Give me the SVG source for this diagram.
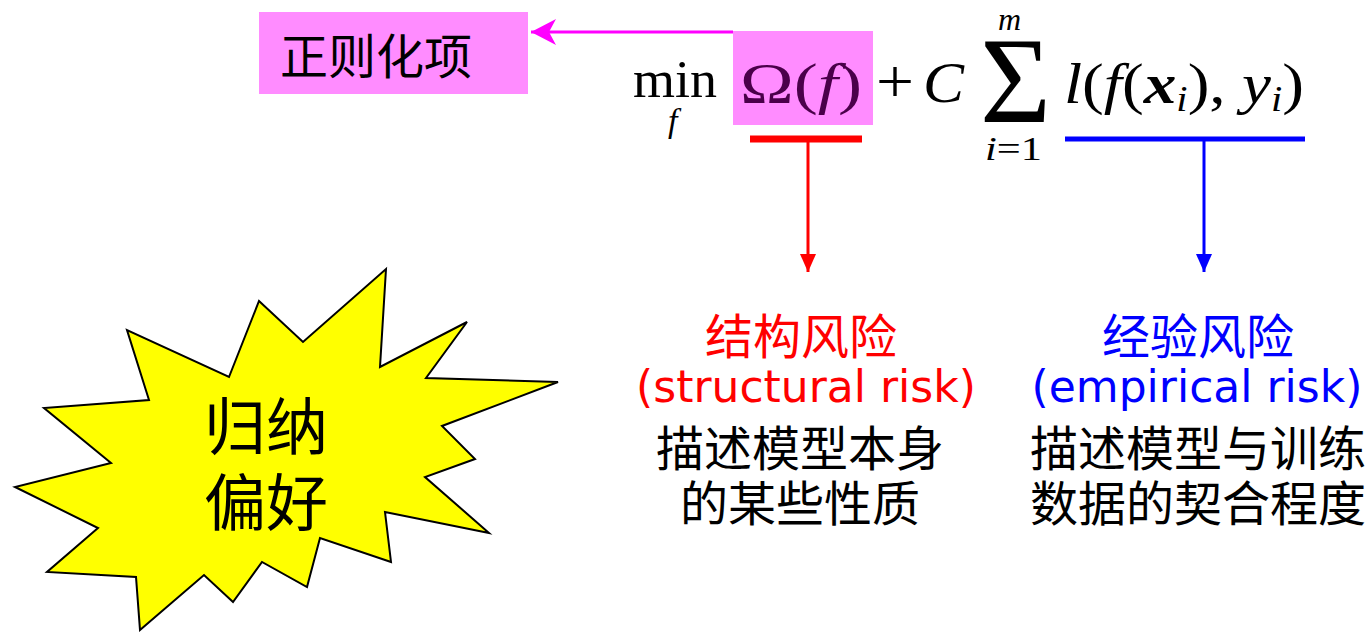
<svg xmlns="http://www.w3.org/2000/svg" width="1372" height="632" viewBox="0 0 1372 632">
<style>
.cjk{font-family:"Noto Sans CJK SC","Noto Sans",sans-serif;}
.lat{font-family:"DejaVu Sans",sans-serif;}
.m{font-family:"Liberation Serif",serif;fill:#000;}
.it{font-style:italic;}
.red{fill:#ff0000;}
.blue{fill:#0000ff;}
.blk{fill:#000;}
</style>
<defs>
<marker id="amag" markerWidth="26" markerHeight="26" refX="25" refY="13" orient="auto" markerUnits="userSpaceOnUse" viewBox="0 0 26 26">
<path d="M25,13 L0,0 L7,13 L0,26 Z" fill="#ff00ff"/>
</marker>
<marker id="ared" markerWidth="16" markerHeight="18" refX="8" refY="18" orient="0" markerUnits="userSpaceOnUse" viewBox="0 0 16 18">
<path d="M0,0 L16,0 L8,18 Z" fill="#ff0000"/>
</marker>
<marker id="ablue" markerWidth="16" markerHeight="18" refX="8" refY="18" orient="0" markerUnits="userSpaceOnUse" viewBox="0 0 16 18">
<path d="M0,0 L16,0 L8,18 Z" fill="#0000ff"/>
</marker>
</defs>
<rect width="1372" height="632" fill="#ffffff"/>
<g id="reg-node">
<rect x="259" y="12" width="269" height="82" fill="#ff8cff"/>
<text x="280" y="74" class="cjk blk" font-size="48">正则化项</text>
</g>
<g id="formula">
<rect x="733" y="31" width="140" height="94" fill="#ff8cff"/>
<text x="633" y="97" class="m" font-size="52" textLength="84" lengthAdjust="spacingAndGlyphs">min</text>
<text x="668" y="132" class="m it" font-size="34">f</text>
<text x="740" y="103" class="m" font-size="58" style="fill:#4a004a" textLength="122" lengthAdjust="spacingAndGlyphs">Ω(<tspan class="it">f</tspan>)</text>
<text x="876" y="102" class="m" font-size="62" textLength="38" lengthAdjust="spacingAndGlyphs">+</text>
<text x="923" y="102" class="m it" font-size="56" textLength="41" lengthAdjust="spacingAndGlyphs">C</text>
<text x="980" y="122" class="m" font-size="122" textLength="71" lengthAdjust="spacingAndGlyphs">Σ</text>
<text x="998" y="30" class="m it" font-size="32">m</text>
<text x="985" y="160" class="m" font-size="34" textLength="57" lengthAdjust="spacingAndGlyphs"><tspan class="it">i</tspan>=1</text>
<text x="1064" y="103" class="m" font-size="58" textLength="240" lengthAdjust="spacingAndGlyphs"><tspan class="it">l</tspan>(<tspan class="it">f</tspan>(<tspan font-weight="bold" class="it">x</tspan><tspan class="it" font-size="36" dy="8">i</tspan><tspan dy="-8">),</tspan> <tspan class="it">y</tspan><tspan class="it" font-size="36" dy="8">i</tspan><tspan dy="-8">)</tspan></text>
</g>
<g id="connectors">
<line x1="733" y1="32" x2="531" y2="32" stroke="#ff00ff" stroke-width="3" marker-end="url(#amag)"/>
<line x1="750" y1="139" x2="862" y2="139" stroke="#ff0000" stroke-width="7"/>
<line x1="808" y1="139" x2="808" y2="272" stroke="#ff0000" stroke-width="3" marker-end="url(#ared)"/>
<line x1="1065" y1="139" x2="1305" y2="139" stroke="#0000ff" stroke-width="5"/>
<line x1="1204" y1="139" x2="1204" y2="272" stroke="#0000ff" stroke-width="3" marker-end="url(#ablue)"/>
</g>
<g id="structural-risk">
<text x="801" y="354" class="cjk red" font-size="48" text-anchor="middle">结构风险</text>
<text x="806" y="402" class="lat red" font-size="44" text-anchor="middle">(structural risk)</text>
<text x="800" y="466" class="cjk blk" font-size="48" text-anchor="middle">描述模型本身</text>
<text x="800" y="521" class="cjk blk" font-size="48" text-anchor="middle">的某些性质</text>
</g>
<g id="empirical-risk">
<text x="1198" y="354" class="cjk blue" font-size="48" text-anchor="middle">经验风险</text>
<text x="1197" y="402" class="lat blue" font-size="44" text-anchor="middle">(empirical risk)</text>
<text x="1198" y="466" class="cjk blk" font-size="48" text-anchor="middle">描述模型与训练</text>
<text x="1198" y="521" class="cjk blk" font-size="48" text-anchor="middle">数据的契合程度</text>
</g>
<g id="inductive-bias">
<polygon points="386,269 380,367 467,322 426,378 558,382 442,426 475,459 425,477 489,533 385,512 391,562 320,538 307,587 262,562 233,602 204,575 140,630 136,577 47,572 98,528 15,487 111,463 44,408 149,400 127,330 229,377 259,301 303,342" fill="#ffff00" stroke="#000" stroke-width="2" stroke-linejoin="miter"/>
<text x="266" y="450" class="cjk blk" font-size="62" text-anchor="middle">归纳</text>
<text x="266" y="526" class="cjk blk" font-size="62" text-anchor="middle">偏好</text>
</g>
</svg>
